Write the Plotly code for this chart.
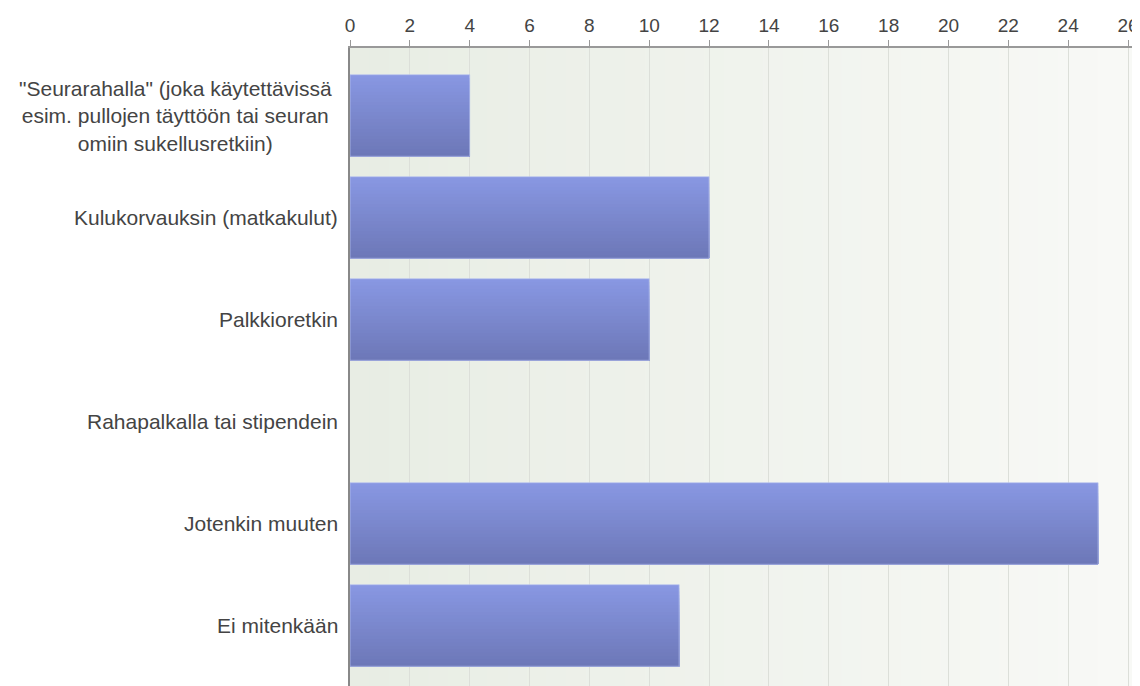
import plotly.graph_objects as go

categories = [
    '"Seurarahalla" (joka käytettävissä<br>esim. pullojen täyttöön tai seuran<br>omiin sukellusretkiin)',
    "Kulukorvauksin (matkakulut)",
    "Palkkioretkin",
    "Rahapalkalla tai stipendein",
    "Jotenkin muuten",
    "Ei mitenkään",
]
values = [4, 12, 10, 0, 25, 11]
tick_vals = list(range(0, 27, 2))

positions = list(range(len(categories)))

fig = go.Figure()

# gradient bars: layered horizontal strips from light (top) to dark (bottom)
N = 24
bar_w = 0.8
step = bar_w / N
top = (0x88, 0x97, 0xE2)
bot = (0x6D, 0x78, 0xB8)
for k in range(N):
    t = k / (N - 1)
    c = tuple(round(top[i] + (bot[i] - top[i]) * t) for i in range(3))
    fig.add_trace(go.Bar(
        x=values, y=positions, orientation="h",
        width=bar_w - k * step, offset=-bar_w / 2 + k * step,
        marker=dict(color="rgb(%d,%d,%d)" % c, line=dict(width=0)),
        showlegend=False, hoverinfo="skip",
    ))
# light outline (skipped for zero-length bars)
fig.add_trace(go.Bar(
    x=[v if v else None for v in values], y=positions, orientation="h", width=bar_w,
    marker=dict(color="rgba(0,0,0,0)", line=dict(color="rgba(185,195,238,0.7)", width=1)),
    showlegend=False, hoverinfo="skip",
))

# background gradient bands
xmax = 26.3
nb = 40
left = (0xE8, 0xED, 0xE4)
right = (0xF8, 0xF9, 0xF6)
shapes = []
for k in range(nb):
    t = k / (nb - 1)
    c = tuple(round(left[i] + (right[i] - left[i]) * t) for i in range(3))
    shapes.append(dict(type="rect", xref="x", yref="paper",
                       x0=xmax * k / nb, x1=xmax * (k + 1) / nb + 0.02, y0=0, y1=1,
                       fillcolor="rgb(%d,%d,%d)" % c, line=dict(width=0), layer="below"))
shapes.append(dict(type="line", xref="paper", yref="paper", x0=1, x1=1, y0=0, y1=1,
                   line=dict(color="#bbbbbb", width=1)))

annotations = []
for p, cat in zip(positions, categories):
    annotations.append(dict(text=cat, x=0, xref="paper", y=p, yref="y",
                            xanchor="right", yanchor="middle", xshift=-10 if p else -16,
                            align="center", showarrow=False,
                            font=dict(family="Liberation Sans, Arial", size=21, color="#444")))

fig.update_layout(
    width=1132, height=678,
    margin=dict(l=342, r=3, t=40, b=0),
    paper_bgcolor="white", plot_bgcolor="rgba(0,0,0,0)",
    barmode="overlay",
    shapes=shapes, annotations=annotations,
    font=dict(family="Liberation Sans, Arial", size=19, color="#444"),
    xaxis=dict(side="top", range=[0, xmax], tickvals=tick_vals,
               showgrid=True, gridcolor="#dcdfd9", gridwidth=1,
               ticks="outside", ticklen=6, tickcolor="#999", tickfont=dict(size=19, color="#444"),
               ticklabeloverflow="allow",
               showline=True, linecolor="#999", linewidth=2, zeroline=False, fixedrange=True),
    yaxis=dict(range=[5.593, -0.662], tickvals=positions, showticklabels=False,
               showgrid=False, zeroline=False, showline=True, linecolor="#888", linewidth=2,
               ticks="", fixedrange=True),
)

fig.write_html("out.html", post_script="document.documentElement.style.overflow='hidden';document.body.style.overflow='hidden';")
